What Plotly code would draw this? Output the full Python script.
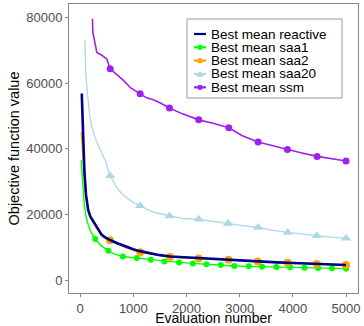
import numpy as np
import plotly.graph_objects as go

# best mean objective per evaluation
reactive_x = [30, 50, 80, 110, 150, 190, 250, 320, 400, 450, 560, 700, 850, 1000, 1100, 1300,
              1500, 1700, 1900, 2200, 2500, 2800, 3100, 3400, 3700, 4000, 4300, 4600, 5000]
reactive_y = [56800, 44000, 33000, 26000, 21500, 19500, 17800, 16000, 14000, 13300, 12300, 11300,
              10300, 9500, 9000, 8300, 7700, 7300, 7100, 6800, 6500, 6300, 6000, 5700, 5500, 5300,
              5100, 4900, 4700]

saa1_x = [20, 50, 80, 110, 150, 200, 282, 400, 532, 650, 802, 1065, 1328, 1585, 1860, 2118, 2374,
          2645, 2900, 3170, 3420, 3690, 3947, 4216, 4474, 4737, 5000]
saa1_y = [36500, 28000, 22500, 19500, 17000, 14800, 12600, 10500, 9000, 8000, 7300, 6800, 6300,
          5800, 5500, 5200, 4900, 4700, 4400, 4300, 4200, 4100, 4050, 3900, 3800, 3700, 3600]
saa1_marks = [282, 532, 802, 1065, 1328, 1585, 1860, 2118, 2374, 2645, 2900, 3170, 3420, 3690,
              3947, 4216, 4474, 4737, 5000]

saa2_x = [20, 50, 80, 110, 150, 190, 250, 320, 400, 460, 560, 700, 850, 1000, 1130, 1300, 1500,
          1690, 1900, 2230, 2500, 2790, 3100, 3340, 3600, 3900, 4200, 4450, 4700, 5000]
saa2_y = [45000, 38000, 30000, 25000, 21000, 19000, 17300, 15500, 13600, 12900, 12200, 11000,
          10000, 9200, 8600, 8100, 7600, 7100, 6900, 6700, 6500, 6300, 6000, 5800, 5600, 5400,
          5200, 5000, 4900, 4700]
saa2_marks = [560, 1130, 1690, 2230, 2790, 3340, 3900, 4450, 5000]

saa20_x = [88, 95, 103, 137, 180, 220, 300, 376, 470, 564, 700, 810, 950, 1128, 1300, 1440, 1680,
           1917, 2230, 2500, 2782, 3050, 3346, 3600, 3904, 4150, 4450, 4700, 5000]
saa20_y = [73200, 68000, 63800, 56700, 50000, 46600, 42500, 39800, 36500, 31800, 28000, 26000,
           24200, 22700, 21300, 20500, 19600, 18900, 18600, 17900, 17300, 16700, 16100, 15300,
           14600, 14100, 13600, 13200, 12800]
saa20_marks = [564, 1128, 1680, 2230, 2782, 3346, 3904, 4450, 5000]

ssm_x = [231, 238, 282, 313, 400, 500, 564, 700, 815, 950, 1128, 1250, 1378, 1500, 1680, 1912,
         2230, 2500, 2795, 3050, 3346, 3600, 3897, 4150, 4455, 4700, 5000]
ssm_y = [79500, 75400, 71900, 69300, 68500, 67300, 64300, 62500, 60800, 58500, 56700, 55500,
         54900, 54000, 52400, 50700, 48800, 47800, 46400, 44000, 42100, 41000, 39800, 38800,
         37700, 37000, 36300]
ssm_marks = [564, 1128, 1680, 2230, 2795, 3346, 3897, 4455, 5000]

x_ticks = [0, 1000, 2000, 3000, 4000, 5000]
y_ticks = [0, 20000, 40000, 60000, 80000]

series = {
    # name: x, y, marks, color, line width, symbol, marker size
    "Best mean reactive": (reactive_x, reactive_y, [], "#00008B", 2.6, None, 0),
    "Best mean saa1": (saa1_x, saa1_y, saa1_marks, "#00FF00", 1.4, "circle", 6),
    "Best mean saa2": (saa2_x, saa2_y, saa2_marks, "#FFA500", 1.4, "circle", 8),
    "Best mean saa20": (saa20_x, saa20_y, saa20_marks, "#ADD8E6", 1.3, "triangle-up", 9),
    "Best mean ssm": (ssm_x, ssm_y, ssm_marks, "#A020F0", 1.6, "circle", 7),
}
draw_order = ["Best mean saa20", "Best mean ssm", "Best mean saa1",
              "Best mean saa2", "Best mean reactive"]

FONT = "Liberation Sans, Arial, sans-serif"
L, R, T, B = 69, 6, 4, 33
W, H = 364, 326
PW, PH = W - L - R, H - T - B

fig = go.Figure()

for name in draw_order:
    xs, ys, marks, color, lw, sym, ms = series[name]
    fig.add_trace(go.Scatter(x=xs, y=ys, mode="lines", name=name,
                             line=dict(color=color, width=lw), showlegend=False))
    if marks:
        idx = [xs.index(m) for m in marks]
        fig.add_trace(go.Scatter(x=np.array(xs)[idx], y=np.array(ys)[idx], mode="markers",
                                 marker=dict(color=color, size=ms, symbol=sym),
                                 showlegend=False, name=name))


# hand-built legend box (plotly's own legend rows are too tall for this size)
def px(x):
    return (x - L) / PW


def py(y):
    return (H - B - y) / PH


shapes = [dict(type="rect", xref="paper", yref="paper", x0=px(187), x1=px(342),
               y0=py(98), y1=py(19), fillcolor="white", line=dict(color="#999999", width=1))]
annotations = []
for i, name in enumerate(series):
    xs, ys, marks, color, lw, sym, ms = series[name]
    cy = 34 + i * 13.33
    shapes.append(dict(type="line", xref="paper", yref="paper", x0=px(194), x1=px(206),
                       y0=py(cy), y1=py(cy), line=dict(color=color, width=2.2)))
    if sym == "circle":
        r = 2.6
        shapes.append(dict(type="circle", xref="paper", yref="paper",
                           x0=px(200 - r), x1=px(200 + r), y0=py(cy + r), y1=py(cy - r),
                           fillcolor=color, line=dict(width=0)))
    elif sym == "triangle-up":
        path = "M {} {} L {} {} L {} {} Z".format(px(196.5), py(cy + 2.8), px(203.5), py(cy + 2.8),
                                                  px(200), py(cy - 3.5))
        shapes.append(dict(type="path", xref="paper", yref="paper", path=path,
                           fillcolor=color, line=dict(width=0)))
    annotations.append(dict(text=name, xref="paper", yref="paper", x=px(209), y=py(cy),
                            xanchor="left", yanchor="middle", showarrow=False,
                            font=dict(size=13.5, color="black", family=FONT)))

axis_common = dict(showline=True, linecolor="#888888", linewidth=1, mirror=True,
                   showgrid=False, zeroline=False, ticks="outside", ticklen=3,
                   tickcolor="#888888", automargin=False, tickformat="d",
                   tickfont=dict(size=13, color="#4D4D4D"))

fig.update_xaxes(range=[-210, 5225], tickvals=x_ticks,
                 title=dict(text="Evaluation number", font=dict(size=14, color="black"),
                            standoff=1), **axis_common)
fig.update_yaxes(range=[-3800, 84000], tickvals=y_ticks,
                 title=dict(text="Objective function value", font=dict(size=14.5, color="black"),
                            standoff=3), **axis_common)

fig.update_layout(
    width=W, height=H,
    margin=dict(l=L, r=R, t=T, b=B),
    paper_bgcolor="white", plot_bgcolor="white",
    font=dict(family=FONT),
    showlegend=False,
    shapes=shapes, annotations=annotations,
)

# page body has a default 8px margin; drop it so the figure sits at 0,0
fig.write_html("out.html", config={"displayModeBar": False},
               post_script="document.body.style.margin='0';")
